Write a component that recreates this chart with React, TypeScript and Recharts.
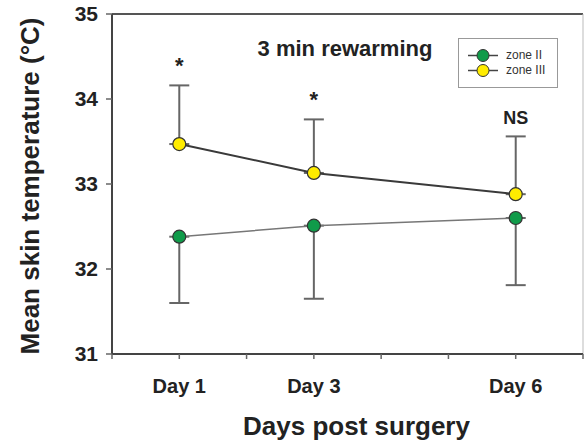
import React from 'react'
import {
  ErrorBar,
  Legend,
  Line,
  LineChart,
  ReferenceDot,
  ReferenceLine,
  XAxis,
  YAxis,
} from 'recharts'

const DAYS = [1, 3, 6]
const DAY_LABELS = ['Day 1', 'Day 3', 'Day 6']
const ZONE_II = [32.38, 32.51, 32.6]
const ZONE_II_SD = [0.78, 0.86, 0.79]
const ZONE_III = [33.47, 33.13, 32.88]
const ZONE_III_SD = [0.69, 0.63, 0.68]
const SIG = ['*', '*', 'NS']
const X_TICKS = [0, 1, 2, 3, 4, 5, 6, 7]
const Y_TICKS = [31, 32, 33, 34, 35]

const FONT = '"Liberation Sans", Arial, sans-serif'
const TEXT = '#222'
const GREEN = '#109b4a'
const YELLOW = '#ffec00'

const data = DAYS.map((d, i) => ({
  day: d,
  zone2: ZONE_II[i],
  zone2Err: [ZONE_II_SD[i], 0],
  zone3: ZONE_III[i],
  zone3Err: [0, ZONE_III_SD[i]],
}))

const SERIES = [
  { name: 'zone II', fill: GREEN },
  { name: 'zone III', fill: YELLOW },
]

function XTick(props: any) {
  const { x, y, payload } = props
  const idx = DAYS.indexOf(payload.value)
  if (idx < 0) return null
  return (
    <text x={x} y={y} dy={32} textAnchor="middle" fontFamily={FONT} fontWeight="bold" fontSize={20} fill={TEXT}>
      {DAY_LABELS[idx]}
    </text>
  )
}

function LegendBox() {
  return (
    <div
      style={{
        width: 100,
        height: 50,
        border: '1.5px solid #999',
        background: '#fff',
        boxSizing: 'border-box',
        paddingTop: 9,
        paddingLeft: 8,
        fontFamily: FONT,
        fontSize: 12,
        color: '#333',
      }}
    >
      {SERIES.map((s) => (
        <div key={s.name} style={{ display: 'flex', alignItems: 'center', height: 15 }}>
          <svg width={32} height={15}>
            <line x1={1} y1={7.5} x2={31} y2={7.5} stroke="#444" strokeWidth={1.5} />
            <circle cx={16} cy={7.5} r={6} fill={s.fill} stroke="#333" strokeWidth={1} />
          </svg>
          <span style={{ marginLeft: 7, lineHeight: '15px' }}>{s.name}</span>
        </div>
      ))}
    </div>
  )
}

export default function App() {
  return (
    <div style={{ position: 'absolute', left: 0, top: 0, width: 585, height: 442, background: '#fff' }}>
      <LineChart width={585} height={442} data={data} margin={{ top: 14, right: 2, left: 0, bottom: 0 }}>
        <XAxis
          type="number"
          dataKey="day"
          domain={[0, 7]}
          ticks={X_TICKS}
          interval={0}
          height={88}
          axisLine={{ stroke: '#444', strokeWidth: 2 }}
          tickLine={{ stroke: '#666', strokeWidth: 1.5 }}
          tickSize={5}
          tick={<XTick />}
          label={{
            value: 'Days post surgery',
            position: 'insideBottom',
            offset: 7,
            dx: 9,
            style: { fontFamily: FONT, fontWeight: 'bold', fontSize: 26, fill: TEXT },
          }}
        />
        <YAxis
          type="number"
          domain={[31, 35]}
          ticks={Y_TICKS}
          width={112}
          allowDataOverflow
          axisLine={{ stroke: '#444', strokeWidth: 2 }}
          tickLine={{ stroke: '#666', strokeWidth: 1.5 }}
          tickSize={6}
          tickMargin={8}
          tick={{ fontFamily: FONT, fontWeight: 'bold', fontSize: 21, fill: TEXT }}
          label={{
            value: 'Mean skin temperature (°C)',
            angle: -90,
            position: 'insideLeft',
            offset: 30,
            dy: 2,
            style: { textAnchor: 'middle', fontFamily: FONT, fontWeight: 'bold', fontSize: 26, fill: TEXT },
          }}
        />
        <ReferenceLine y={35} stroke="#555" strokeWidth={2} ifOverflow="visible" />
        <ReferenceLine x={7} stroke="#bbb" strokeWidth={1} ifOverflow="visible" />
        <Legend
          layout="horizontal"
          verticalAlign="middle"
          align="center"
          content={<LegendBox />}
          wrapperStyle={{ position: 'absolute', left: 458, top: 38, width: 100, height: 50 }}
        />
        <Line
          name="zone II"
          dataKey="zone2"
          stroke="#777"
          strokeWidth={1.5}
          dot={{ r: 6.5, fill: GREEN, stroke: '#333', strokeWidth: 1.2 }}
          isAnimationActive={false}
        >
          <ErrorBar dataKey="zone2Err" direction="y" width={10} stroke="#666" strokeWidth={2} />
        </Line>
        <Line
          name="zone III"
          dataKey="zone3"
          stroke="#3a3a3a"
          strokeWidth={2}
          dot={{ r: 6.5, fill: YELLOW, stroke: '#333', strokeWidth: 1.2 }}
          isAnimationActive={false}
        >
          <ErrorBar dataKey="zone3Err" direction="y" width={10} stroke="#666" strokeWidth={2} />
        </Line>
        {DAYS.map((d, i) => (
          <ReferenceDot
            key={d}
            x={d}
            y={ZONE_III[i] + ZONE_III_SD[i]}
            r={0}
            fill="none"
            stroke="none"
            ifOverflow="visible"
            label={{
              value: SIG[i],
              position: 'top',
              offset: 12,
              style: { fontFamily: FONT, fontWeight: 'bold', fontSize: SIG[i] === '*' ? 22 : 18, fill: TEXT },
            }}
          />
        ))}
      </LineChart>
      <div
        style={{
          position: 'absolute',
          left: 248,
          top: 36,
          width: 194,
          textAlign: 'center',
          fontFamily: FONT,
          fontWeight: 'bold',
          fontSize: 22,
          color: TEXT,
        }}
      >
        3 min rewarming
      </div>
    </div>
  )
}
